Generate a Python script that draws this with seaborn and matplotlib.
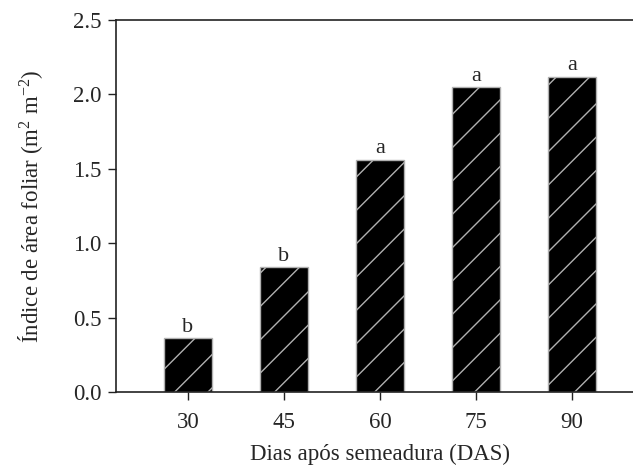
import matplotlib
matplotlib.use("Agg")
import matplotlib.pyplot as plt
import seaborn as sns
import pandas as pd

# Leaf area index by days after sowing
das = ["30", "45", "60", "75", "90"]
iaf = [0.36, 0.84, 1.56, 2.05, 2.12]
letras = ["b", "b", "a", "a", "a"]

sns.set_style("ticks")
plt.rcParams['font.family'] = ['Liberation Serif', 'DejaVu Serif']
plt.rcParams['mathtext.fontset'] = 'custom'
plt.rcParams['mathtext.rm'] = 'Liberation Serif'
plt.rcParams['mathtext.default'] = 'regular'
plt.rcParams['hatch.color'] = '#b0b0b0'
plt.rcParams['hatch.linewidth'] = 1.0

df = pd.DataFrame({"DAS": das, "IAF": iaf})

fig = plt.figure(figsize=(6.33, 4.74), dpi=100)
ax = fig.add_axes([116 / 633, 82 / 474, (644 - 116) / 633, (392 - 20) / 474])

sns.barplot(data=df, x="DAS", y="IAF", color="black", saturation=1,
            width=0.49, edgecolor="#b0b0b0", linewidth=1.0, ax=ax)

for p in ax.patches:
    p.set_hatch("/")

ax.bar_label(ax.containers[0], labels=letras, padding=1, fontsize=16)

ax.set_xlim(-0.75, 4.75)
ax.set_ylim(0, 2.5)
ax.set_yticks([0, 0.5, 1.0, 1.5, 2.0, 2.5])
ax.set_yticklabels(["0.0", "0.5", "1.0", "1.5", "2.0", "2.5"])
ax.tick_params(axis="both", labelsize=16.5, direction="out", length=5.5, width=1, color="#222222")
ax.tick_params(axis="x", pad=9)
ax.tick_params(axis="y", pad=5)

ax.set_xlabel("Dias após semeadura (DAS)", fontsize=16.5, labelpad=8)
ax.set_ylabel("Índice de área foliar (m$^{2}$ m$^{-2}$)", fontsize=16.5, labelpad=20)

ax.spines["right"].set_visible(False)
for s in ["left", "bottom", "top"]:
    ax.spines[s].set_linewidth(1.2)
    ax.spines[s].set_color("#222222")

fig.savefig("out.png", dpi=100)
